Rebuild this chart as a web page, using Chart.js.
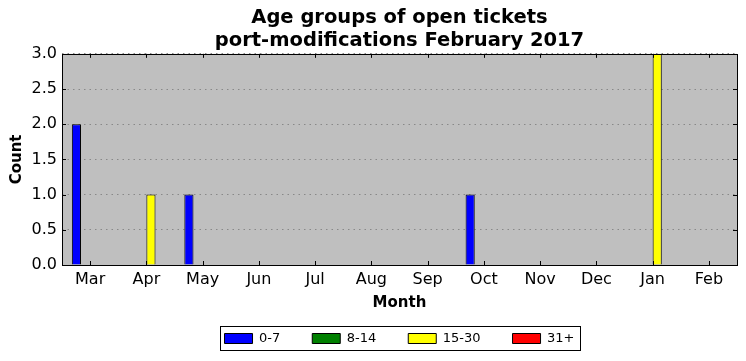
<!DOCTYPE html>
<html>
<head>
<meta charset="utf-8">
<script src="https://cdn.jsdelivr.net/npm/chart.js@4"></script>
<style>
  html, body { margin: 0; padding: 0; background: #fff; }
  #wrap { width: 746px; height: 361px; }
</style>
</head>
<body>
<div id="wrap"><canvas id="myChart" width="746" height="361"></canvas></div>
<script>
var months = ['Mar', 'Apr', 'May', 'Jun', 'Jul', 'Aug', 'Sep', 'Oct', 'Nov', 'Dec', 'Jan', 'Feb'];
var idade0a7 = [2, 0, 1, 0, 0, 0, 0, 1, 0, 0, 0, 0];
var idade8a14 = [0, 0, 0, 0, 0, 0, 0, 0, 0, 0, 0, 0];
var idade15a30 = [0, 1, 0, 0, 0, 0, 0, 0, 0, 0, 3, 0];
var idade31mais = [0, 0, 0, 0, 0, 0, 0, 0, 0, 0, 0, 0];
var rotulos = ['0-7', '8-14', '15-30', '31+'];
var cores = ['#0000ff', '#008000', '#ffff00', '#ff0000'];
var yTicks = [0, 0.5, 1, 1.5, 2, 2.5, 3];

Chart.defaults.font.family = '"DejaVu Sans", sans-serif';
Chart.defaults.color = '#000';

// fundo cinza, moldura e ticks para dentro (estilo matplotlib)
var estiloPlot = {
	id: 'estiloPlot',
	beforeDraw: function(chart) {
		var a = chart.chartArea, ctx = chart.ctx;
		ctx.save();
		ctx.fillStyle = '#bfbfbf';
		ctx.fillRect(a.left, a.top, a.right - a.left, a.bottom - a.top);
		ctx.restore();
	},
	afterDatasetsDraw: function(chart) {
		var a = chart.chartArea, ctx = chart.ctx;
		var x = chart.scales.x, y = chart.scales.y;
		ctx.save();
		ctx.strokeStyle = '#000';
		ctx.lineWidth = 1;
		ctx.beginPath();
		for (var i = 0; i < months.length; i++) {
			var px = Math.round(x.getPixelForTick(i)) + 0.5;
			ctx.moveTo(px, a.bottom); ctx.lineTo(px, a.bottom - 4);
			ctx.moveTo(px, a.top); ctx.lineTo(px, a.top + 4);
		}
		yTicks.forEach(function(v) {
			var py = Math.round(y.getPixelForValue(v)) + 0.5;
			ctx.moveTo(a.left, py); ctx.lineTo(a.left + 4, py);
			ctx.moveTo(a.right, py); ctx.lineTo(a.right - 4, py);
		});
		ctx.stroke();
		ctx.strokeRect(Math.round(a.left) + 0.5, Math.round(a.top) + 0.5,
			Math.round(a.right - a.left), Math.round(a.bottom - a.top));
		ctx.restore();
	},
	afterDraw: function(chart) {
		var lg = chart.legend;
		if (!lg || !lg.legendHitBoxes || !lg.legendHitBoxes.length) return;
		var hb = lg.legendHitBoxes;
		var l = hb[0].left, r = hb[hb.length - 1].left + hb[hb.length - 1].width;
		var t = hb[0].top;
		var ctx = chart.ctx;
		ctx.save();
		ctx.strokeStyle = '#000';
		ctx.lineWidth = 1;
		ctx.strokeRect(Math.round(l - 5) + 0.5, Math.round(t - 6) + 0.5, Math.round(r - l + 10), 24);
		ctx.restore();
	}
};

var dadosGrafico = {
	labels: months,
	datasets: [
		{ label: rotulos[0], data: idade0a7, backgroundColor: cores[0] },
		{ label: rotulos[1], data: idade8a14, backgroundColor: cores[1] },
		{ label: rotulos[2], data: idade15a30, backgroundColor: cores[2] },
		{ label: rotulos[3], data: idade31mais, backgroundColor: cores[3] }
	].map(function(d) {
		d.borderColor = '#000';
		d.borderWidth = 1;
		d.categoryPercentage = 0.65;
		d.barPercentage = 1.0;
		return d;
	})
};

var opcoes = {
	responsive: false,
	animation: false,
	layout: { padding: { left: 0, right: 9, top: 0, bottom: 6 } },
	plugins: {
		title: {
			display: true,
			fullSize: false,
			text: ['Age groups of open tickets', 'port-modifications February 2017'],
			font: { size: 19.5, weight: 'bold', lineHeight: 1.15 },
			padding: { top: 7, bottom: 2 }
		},
		legend: {
			position: 'bottom',
			fullSize: false,
			labels: {
				boxWidth: 28,
				boxHeight: 10,
				padding: 32,
				font: { size: 13 },
				color: '#000'
			}
		},
		tooltip: { enabled: false }
	},
	scales: {
		x: {
			offset: true,
			grid: { display: false, drawTicks: false },
			border: { display: false },
			ticks: { font: { size: 16 }, padding: 5, color: '#000', maxRotation: 0 },
			title: { display: true, text: 'Month', font: { size: 15, weight: 'bold' }, padding: { top: 0, bottom: -12 } },
			afterFit: function(s) { s.height = 35; }
		},
		y: {
			min: 0,
			max: 3,
			grid: { color: '#888888', drawTicks: false },
			border: { display: false, dash: [1.5, 4] },
			ticks: {
				stepSize: 0.5,
				font: { size: 16 },
				padding: 5,
				color: '#000',
				callback: function(v) { return v.toFixed(1); }
			},
			title: { display: true, text: 'Count', font: { size: 15, weight: 'bold' }, padding: { top: 8, bottom: 0 } },
			afterFit: function(s) { s.width = 62; }
		}
	}
};

var ctx = document.getElementById('myChart').getContext('2d');
var myChart = new Chart(ctx, {
	type: 'bar',
	data: dadosGrafico,
	options: opcoes,
	plugins: [estiloPlot]
});
</script>
</body>
</html>
